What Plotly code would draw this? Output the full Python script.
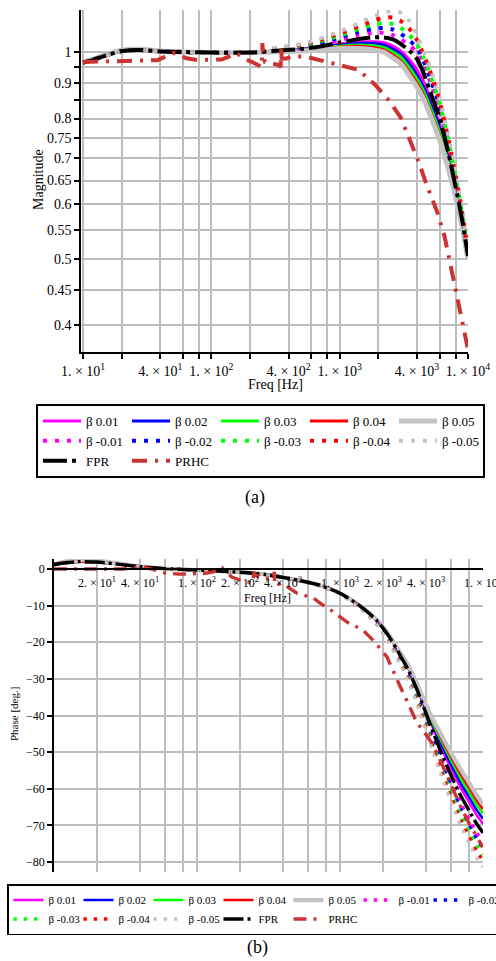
import math
import plotly.graph_objects as go

# ---------------------------------------------------------------- data
FREQ = [10, 12, 15, 20, 27, 40, 60, 100, 200, 300, 500, 700, 1000, 1400, 1800,
        2200, 2600, 3000, 3500, 4000, 4500, 5000, 6000, 7000, 8000, 9000, 10000]

# magnitude (linear gain)
MAG_FPR = [0.965, 0.974, 0.988, 1.003, 1.007, 1.002, 1.000, 0.998, 0.998, 1.003, 1.010, 1.018, 1.032, 1.044,
           1.050, 1.050, 1.043, 1.027, 1.004, 0.977, 0.932, 0.881, 0.802, 0.716, 0.637, 0.570, 0.505]
MAG_P01 = [0.965, 0.974, 0.988, 1.003, 1.007, 1.002, 1.000, 0.998, 0.998, 1.003, 1.010, 1.017, 1.027, 1.034,
           1.035, 1.032, 1.020, 1.003, 0.974, 0.942, 0.905, 0.863, 0.786, 0.706, 0.632, 0.566, 0.505]
MAG_P02 = [0.965, 0.974, 0.988, 1.003, 1.007, 1.002, 1.000, 0.998, 0.998, 1.003, 1.008, 1.015, 1.024, 1.029,
           1.029, 1.024, 1.010, 0.993, 0.961, 0.926, 0.889, 0.849, 0.776, 0.699, 0.628, 0.564, 0.503]
MAG_P03 = [0.965, 0.974, 0.988, 1.003, 1.007, 1.002, 1.000, 0.998, 0.998, 1.003, 1.007, 1.013, 1.020, 1.024,
           1.022, 1.015, 1.000, 0.983, 0.948, 0.914, 0.878, 0.838, 0.765, 0.692, 0.624, 0.562, 0.503]
MAG_P04 = [0.965, 0.974, 0.988, 1.003, 1.007, 1.002, 1.000, 0.998, 0.998, 1.002, 1.005, 1.010, 1.017, 1.019,
           1.015, 1.007, 0.990, 0.970, 0.935, 0.901, 0.866, 0.826, 0.755, 0.685, 0.620, 0.560, 0.502]
MAG_P05 = [0.966, 0.976, 0.991, 1.006, 1.009, 1.003, 1.000, 0.998, 0.998, 1.000, 1.003, 1.007, 1.012, 1.012,
           1.008, 1.000, 0.980, 0.961, 0.923, 0.889, 0.855, 0.815, 0.745, 0.678, 0.616, 0.557, 0.499]
MAG_N01 = [0.965, 0.974, 0.988, 1.003, 1.007, 1.002, 1.000, 0.998, 0.998, 1.005, 1.013, 1.024, 1.041, 1.056,
           1.066, 1.066, 1.058, 1.043, 1.022, 1.000, 0.960, 0.912, 0.828, 0.735, 0.650, 0.578, 0.507]
MAG_N02 = [0.965, 0.974, 0.988, 1.003, 1.007, 1.002, 1.000, 0.998, 0.998, 1.007, 1.017, 1.031, 1.050, 1.069,
           1.080, 1.084, 1.078, 1.062, 1.040, 1.013, 0.970, 0.922, 0.836, 0.740, 0.654, 0.580, 0.509]
MAG_N03 = [0.965, 0.974, 0.988, 1.003, 1.007, 1.002, 1.000, 0.998, 0.998, 1.008, 1.020, 1.036, 1.057, 1.080,
           1.094, 1.102, 1.098, 1.084, 1.058, 1.026, 0.980, 0.933, 0.843, 0.745, 0.657, 0.582, 0.509]
MAG_N04 = [0.965, 0.974, 0.988, 1.003, 1.007, 1.002, 1.000, 0.998, 0.998, 1.010, 1.024, 1.041, 1.064, 1.089,
           1.109, 1.122, 1.122, 1.109, 1.080, 1.041, 0.992, 0.944, 0.850, 0.750, 0.661, 0.585, 0.511]
MAG_N05 = [0.965, 0.974, 0.988, 1.003, 1.007, 1.002, 1.000, 0.998, 0.998, 1.012, 1.027, 1.046, 1.071, 1.100,
           1.126, 1.140, 1.148, 1.140, 1.109, 1.058, 1.005, 0.956, 0.858, 0.756, 0.665, 0.587, 0.513]

# phase (degrees)
PH_FPR = [1.2, 1.7, 2.0, 1.9, 1.4, 0.6, 0.1, -0.3, -0.9, -1.5, -3.0, -4.3, -6.6, -10.3, -14.0, -18.4,
          -23.2, -27.5, -33.5, -39.5, -44.8, -49.3, -56.5, -62.0, -66.0, -69.5, -72.0]
PH_P01 = [1.2, 1.7, 2.0, 1.9, 1.4, 0.6, 0.1, -0.3, -0.9, -1.5, -3.0, -4.3, -6.6, -10.3, -14.0, -18.3,
          -23.0, -27.1, -33.0, -38.8, -43.7, -47.9, -54.6, -59.8, -63.7, -67.1, -69.6]
PH_P02 = [1.2, 1.7, 2.0, 1.9, 1.4, 0.6, 0.1, -0.3, -0.9, -1.5, -3.0, -4.3, -6.6, -10.3, -13.9, -18.2,
          -22.8, -26.9, -32.7, -38.4, -43.1, -47.0, -53.5, -58.5, -62.3, -65.7, -68.2]
PH_P03 = [1.2, 1.7, 2.0, 1.9, 1.4, 0.6, 0.1, -0.3, -0.9, -1.5, -3.0, -4.3, -6.6, -10.2, -13.9, -18.1,
          -22.7, -26.7, -32.4, -37.9, -42.5, -46.2, -52.3, -57.2, -60.9, -64.3, -66.8]
PH_P04 = [1.2, 1.7, 2.0, 1.9, 1.4, 0.6, 0.1, -0.3, -0.9, -1.5, -3.0, -4.3, -6.6, -10.2, -13.9, -18.1,
          -22.6, -26.5, -32.1, -37.6, -41.9, -45.5, -51.4, -56.1, -59.7, -63.1, -65.6]
PH_P05 = [1.3, 2.0, 2.5, 2.3, 1.6, 0.7, 0.1, -0.3, -0.9, -1.5, -3.0, -4.3, -6.6, -10.2, -13.8, -18.0,
          -22.4, -26.3, -31.8, -37.2, -41.3, -44.6, -50.3, -54.8, -58.4, -61.7, -64.2]
PH_N01 = [1.2, 1.7, 2.0, 1.9, 1.4, 0.6, 0.1, -0.3, -0.9, -1.5, -3.0, -4.3, -6.7, -10.4, -14.3, -18.8,
          -23.8, -28.3, -34.5, -40.7, -46.2, -50.9, -58.4, -64.1, -68.3, -71.9, -74.4]
PH_N02 = [1.2, 1.7, 2.0, 1.9, 1.4, 0.6, 0.1, -0.3, -0.9, -1.5, -3.0, -4.3, -6.7, -10.6, -14.5, -19.2,
          -24.3, -28.9, -35.3, -41.6, -47.2, -52.0, -59.7, -65.7, -70.0, -73.6, -76.2]
PH_N03 = [1.2, 1.7, 2.0, 1.9, 1.4, 0.6, 0.1, -0.3, -0.9, -1.5, -3.0, -4.3, -6.8, -10.7, -14.7, -19.5,
          -24.7, -29.5, -36.0, -42.5, -48.3, -53.2, -61.1, -67.2, -71.6, -75.4, -78.0]
PH_N04 = [1.2, 1.7, 2.0, 1.9, 1.4, 0.6, 0.1, -0.3, -0.9, -1.5, -3.0, -4.3, -6.8, -10.8, -14.9, -19.8,
          -25.1, -30.0, -36.7, -43.3, -49.2, -54.2, -62.4, -68.6, -73.1, -77.0, -79.6]
PH_N05 = [1.2, 1.7, 2.0, 1.9, 1.4, 0.6, 0.1, -0.3, -0.9, -1.5, -3.0, -4.3, -6.9, -10.9, -15.1, -20.1,
          -25.6, -30.6, -37.5, -44.2, -50.3, -55.4, -63.7, -70.2, -74.8, -78.7, -81.4]

# PR controller with harmonic compensators: resonances at 50, 150, 250, 350 Hz
PRHC_MAG_F = [10, 20, 30, 38, 44, 50, 56, 63, 75, 95, 120, 140, 152, 165, 185, 210, 235, 247, 250, 253,
              262, 290, 330, 347, 350, 353, 380, 430, 540, 710, 1000, 1400, 1900, 2400, 3000, 3450,
              4150, 4700, 5400, 5800, 6600, 8100, 9100, 10000]
PRHC_MAG = [0.967, 0.969, 0.970, 0.973, 0.985, 0.997, 0.992, 0.980, 0.974, 0.973, 0.975, 0.986, 0.996,
            0.990, 0.976, 0.966, 0.957, 0.951, 1.030, 0.985, 0.967, 0.963, 0.958, 0.951, 1.018, 0.980,
            0.978, 0.985, 0.985, 0.973, 0.959, 0.942, 0.895, 0.852, 0.802, 0.753, 0.690, 0.645, 0.604,
            0.583, 0.537, 0.447, 0.408, 0.369]
PRHC_PH_F = [10, 20, 30, 38, 42, 46, 52, 60, 75, 95, 115, 130, 142, 150, 157, 175, 200, 225, 245, 250,
             256, 270, 300, 340, 347, 350, 360, 400, 500, 650, 725, 900, 1120, 1450, 1700, 2130, 2300,
             2630, 2940, 3240, 3450, 3800, 4380, 5000, 6000, 7000, 8000, 9000, 10000]
PRHC_PH = [0.0, 0.0, 0.0, 0.3, 0.6, 0.2, -0.5, -1.1, -1.4, -1.4, -1.2, -0.8, 0.0, 0.3, -0.5, -2.2, -3.0,
           -3.5, -3.8, -0.9, -1.5, -2.2, -2.6, -2.6, -0.8, -4.4, -4.2, -4.1, -6.6, -7.9, -9.3, -11.7,
           -14.5, -16.7, -19.4, -24.0, -27.0, -32.0, -36.0, -39.5, -42.0, -44.0, -47.5, -52.0, -59.0,
           -65.0, -69.5, -73.0, -76.0]

SERIES_NAMES = ["β 0.01", "β 0.02", "β 0.03", "β 0.04", "β 0.05",
                "β -0.01", "β -0.02", "β -0.03", "β -0.04", "β -0.05", "FPR", "PRHC"]
SERIES_COLORS = ["#ff00ff", "#0000ff", "#00ff00", "#ff0000", "#c4c4c4",
                 "#ff00ff", "#0000ff", "#00ff00", "#ff0000", "#c4c4c4", "#000000", "#cc3333"]

# axis ticks
GRID_F = [10, 20, 40, 60, 80, 100, 200, 400, 600, 800, 1000, 2000, 4000, 6000, 8000, 10000]
TOP_X_LABELED = [10, 40, 100, 400, 1000, 4000, 10000]
BOT_X_LABELED = [20, 40, 100, 200, 400, 1000, 2000, 4000, 10000]
MAG_TICKS = [1, 0.95, 0.9, 0.85, 0.8, 0.75, 0.7, 0.65, 0.6, 0.55, 0.5, 0.45, 0.4]
MAG_TICKTEXT = ["1", "", "0.9", "", "0.8", "0.75", "0.7", "0.65", "0.6", "0.55", "0.5", "0.45", "0.4"]
PH_TICKS = [0, -10, -20, -30, -40, -50, -60, -70, -80]


def sci(v):
    e = int(math.floor(math.log10(v) + 1e-9))
    m = int(round(v / 10 ** e))
    return f"{m}. × 10<sup>{e}</sup>"


# ---------------------------------------------------------------- figure
W, H = 496, 961
SERIF = "Liberation Serif, Times New Roman, serif"
GRID = "#bdbdbd"


def fx(p):
    return p / W


def fy(p):
    return 1 - p / H


mag_sets = [MAG_P01, MAG_P02, MAG_P03, MAG_P04, MAG_P05,
            MAG_N01, MAG_N02, MAG_N03, MAG_N04, MAG_N05, MAG_FPR]
ph_sets = [PH_P01, PH_P02, PH_P03, PH_P04, PH_P05,
           PH_N01, PH_N02, PH_N03, PH_N04, PH_N05, PH_FPR]


def line_style(i, scale):
    if i < 4:
        return dict(width=3 * scale, dash="solid")
    if i == 4:
        return dict(width=5 * scale, dash="solid")
    if i < 10:
        return dict(width=4 * scale, dash=f"{4*scale:.1f}px,{8*scale:.1f}px")
    if i == 10:
        return dict(width=4 * scale, dash=f"{24*scale:.0f}px,{5*scale:.0f}px,{4*scale:.0f}px,{5*scale:.0f}px")
    return dict(width=4 * scale, dash=f"{15*scale:.0f}px,{8*scale:.0f}px,{3*scale:.0f}px,{8*scale:.0f}px")


fig = go.Figure()

for i, name in enumerate(SERIES_NAMES):
    st = line_style(i, 1.0)
    if i < 11:
        xs, ys, shape = FREQ, mag_sets[i], "spline"
    else:
        xs, ys, shape = PRHC_MAG_F, PRHC_MAG, "linear"
    fig.add_trace(go.Scatter(
        x=xs, y=ys, mode="lines", name=name, legend="legend",
        line=dict(color=SERIES_COLORS[i], width=st["width"], dash=st["dash"], shape=shape, smoothing=0.6),
        xaxis="x", yaxis="y", hoverinfo="skip"))

for i, name in enumerate(SERIES_NAMES):
    st = line_style(i, 0.85)
    if i < 11:
        xs, ys, shape = FREQ, ph_sets[i], "spline"
    else:
        xs, ys, shape = PRHC_PH_F, PRHC_PH, "linear"
    fig.add_trace(go.Scatter(
        x=xs, y=ys, mode="lines", name=name, legend="legend2",
        line=dict(color=SERIES_COLORS[i], width=st["width"], dash=st["dash"], shape=shape, smoothing=0.6),
        xaxis="x2", yaxis="y2", hoverinfo="skip"))

axis_common = dict(showline=True, linecolor="black", linewidth=1.5, showgrid=True,
                   gridcolor=GRID, gridwidth=1.5, zeroline=False)


def label(text, x, y, size, angle=0):
    return dict(text=text, x=fx(x), y=fy(y), xref="paper", yref="paper", showarrow=False,
                xanchor="center", yanchor="middle", textangle=angle,
                font=dict(family=SERIF, size=size))


fig.update_layout(
    width=W, height=H, margin=dict(l=0, r=0, t=0, b=0, autoexpand=False),
    paper_bgcolor="white", plot_bgcolor="white",
    font=dict(family=SERIF, color="black"),
    xaxis=dict(type="log", domain=[fx(81), fx(468)], range=[0.984, 4.0], anchor="y",
               tickvals=GRID_F, ticktext=[sci(v) if v in TOP_X_LABELED else "" for v in GRID_F],
               ticks="outside", ticklen=5, tickwidth=1.5, tickcolor="black",
               ticklabeloverflow="allow",
               tickfont=dict(family=SERIF, size=14), tickangle=0, **axis_common),
    yaxis=dict(type="log", domain=[fy(352), fy(10)],
               range=[math.log10(0.366), math.log10(1.151)], anchor="x",
               tickvals=MAG_TICKS, ticktext=MAG_TICKTEXT,
               ticks="outside", ticklen=5, tickwidth=1.5, tickcolor="black",
               tickfont=dict(family=SERIF, size=14), **axis_common),
    xaxis2=dict(type="log", domain=[fx(54), fx(483)], range=[1.0, 4.0], anchor="free",
                position=fy(569),
                tickvals=GRID_F, ticktext=[sci(v) if v in BOT_X_LABELED else "" for v in GRID_F],
                ticks="outside", ticklen=3, tickcolor="rgba(0,0,0,0)", tickangle=0,
                ticklabeloverflow="allow",
                tickfont=dict(family=SERIF, size=12), **axis_common),
    yaxis2=dict(domain=[fy(872), fy(559)], range=[-82.73, 2.73], anchor="x2",
                tickvals=PH_TICKS, ticktext=[("−" + str(-v)) if v < 0 else "0" for v in PH_TICKS],
                ticks="outside", ticklen=5, tickwidth=1.5, tickcolor="black",
                tickfont=dict(family=SERIF, size=12), **axis_common),
    legend=dict(orientation="h", x=fx(36), xanchor="left", y=fy(404), yanchor="top",
                bordercolor="black", borderwidth=2, bgcolor="white",
                font=dict(family=SERIF, size=13), itemwidth=38, entrywidth=36,
                entrywidthmode="pixels", tracegroupgap=0, itemclick=False, itemdoubleclick=False),
    legend2=dict(orientation="h", x=fx(7), xanchor="left", y=fy(884), yanchor="top",
                 bordercolor="black", borderwidth=1.5, bgcolor="white",
                 font=dict(family=SERIF, size=11), entrywidth=25, entrywidthmode="pixels",
                 tracegroupgap=0, itemclick=False, itemdoubleclick=False),
    showlegend=True,
    annotations=[
        label("Magnitude", 38, 180, 14, -90),
        label("Freq [Hz]", 275, 384, 14),
        label("(a)", 255, 497, 18),
        label("Phase [deg.]", 14, 714, 11, -90),
        label("Freq [Hz]", 267, 598, 12),
        label("(b)", 257, 947, 18),
    ],
)

fig.write_html("out.html")
